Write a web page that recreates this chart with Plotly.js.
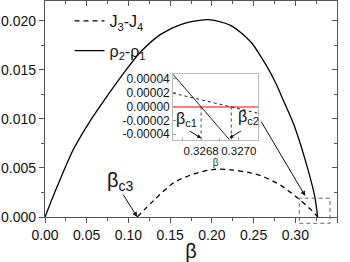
<!DOCTYPE html>
<html><head><meta charset="utf-8">
<script src="https://cdn.plot.ly/plotly-3.0.1.min.js"></script>
<style>html,body{margin:0;padding:0;background:#fff}#c{width:350px;height:262px}</style>
</head><body><div id="c"></div>
<script>
// main curve: rho2 - rho1
const betaRho = [0, 0.0141, 0.0341, 0.0542, 0.0702, 0.0904, 0.1145, 0.1386, 0.1627, 0.1950, 0.2229, 0.2470, 0.2590, 0.2751, 0.2871, 0.2992, 0.3153, 0.3233, 0.3268];
const rhoDiff = [0, 0.0030, 0.0069, 0.0098, 0.0118, 0.0142, 0.0168, 0.0186, 0.0196, 0.0201, 0.0195, 0.0178, 0.0163, 0.0139, 0.0116, 0.0092, 0.0048, 0.0021, 0];
// main curve: J3 - J4
const betaJ = [0.1105, 0.1305, 0.1546, 0.1787, 0.2028, 0.2229, 0.2460, 0.2590, 0.2831, 0.3032, 0.3193, 0.3270];
const jDiff = [0, 0.0017, 0.0035, 0.0044, 0.00485, 0.0048, 0.0045, 0.0042, 0.0032, 0.0019, 0.0007, 0];
// inset (zoom near the critical points)
const insetBetaRho = [0.32665, 0.32695];
const insetRho = [0.000047, -0.000048];
const insetBetaJ = [0.32665, 0.32696, 0.32710];
const insetJ = [0.0000194, 0.0, -0.0000096];
const betaCrit = [0.3268, 0.32696];
const betaC3 = 0.1105;
// tick labels
const insetYTickVals = [0.00004, 0.00002, 0, -0.00002, -0.00004];
const insetYTickText = ["0.00004", "0.00002", "0.00000", "-0.00002", "-0.00004"];
const insetXTickVals = [0.3268, 0.3270];
const insetXTickText = ["0.3268", "0.3270"];

const FONT = 'Arial, "Liberation Sans", sans-serif';
const AX = '#555';
const insetYBottom = -0.0000487;

const traces = [
  {x: betaJ, y: jDiff, mode: 'lines', name: 'J<sub>3</sub>-J<sub>4</sub>', legendgroup: 'a',
   line: {color: '#000', width: 1.3, dash: '5px,4px', shape: 'spline', smoothing: 0.8}},
  {x: betaRho, y: rhoDiff, mode: 'lines', name: 'ρ<sub>2</sub>-ρ<sub>1</sub>', legendgroup: 'b',
   line: {color: '#000', width: 1.3, shape: 'spline', smoothing: 0.8}},
  {x: [], y: [], xaxis: 'x2', yaxis: 'y2', showlegend: false, hoverinfo: 'skip'},
  {x: insetBetaRho, y: insetRho, xaxis: 'x3', yaxis: 'y3', mode: 'lines', showlegend: false,
   line: {color: '#222', width: 1}},
  {x: insetBetaJ, y: insetJ, xaxis: 'x3', yaxis: 'y3', mode: 'lines', showlegend: false,
   line: {color: '#222', width: 1, dash: '3px,3px'}},
  {x: [betaCrit[0], betaCrit[0]], y: [0, insetYBottom], xaxis: 'x3', yaxis: 'y3', mode: 'lines', showlegend: false,
   line: {color: '#444', width: 1, dash: 'dot'}},
  {x: [betaCrit[1], betaCrit[1]], y: [0, insetYBottom], xaxis: 'x3', yaxis: 'y3', mode: 'lines', showlegend: false,
   line: {color: '#444', width: 1, dash: 'dot'}}
];

const layout = {
  width: 350, height: 262,
  margin: {l: 45, r: 13, t: 1, b: 45},
  paper_bgcolor: '#fff', plot_bgcolor: '#fff',
  font: {family: FONT, color: '#111', size: 14},
  showlegend: true,
  legend: {x: 0.084, y: 0.986, xanchor: 'left', yanchor: 'top', bgcolor: 'rgba(0,0,0,0)',
           font: {size: 16, family: FONT}, tracegroupgap: 6},
  xaxis: {range: [0, 0.35], tickvals: [0,0.05,0.1,0.15,0.2,0.25,0.3,0.35], tickformat: '.2f',
          ticks: 'outside', ticklen: 5, tickcolor: AX, showline: true, linecolor: AX, linewidth: 1.2,
          showgrid: false, zeroline: false,
          minor: {dtick: 0.025, ticks: 'outside', ticklen: 3, tickcolor: AX},
          title: {text: 'β', font: {size: 20, family: FONT}, standoff: 4},
          tickfont: {size: 14}},
  yaxis: {range: [0, 0.022], tickvals: [0, 0.005, 0.01, 0.015, 0.02], tickformat: '.3f',
          ticks: 'outside', ticklen: 5, tickcolor: AX, showline: true, linecolor: AX, linewidth: 1.2,
          showgrid: false, zeroline: false,
          minor: {dtick: 0.0025, ticks: 'outside', ticklen: 3, tickcolor: AX},
          tickfont: {size: 14}},
  xaxis2: {overlaying: 'x', side: 'top', anchor: 'y2', range: [0, 0.35], dtick: 0.05,
           ticks: 'inside', ticklen: 5, tickcolor: AX, showticklabels: false, showline: true,
           linecolor: AX, linewidth: 1.2, showgrid: false, zeroline: false,
           minor: {dtick: 0.025, ticks: 'inside', ticklen: 3, tickcolor: AX}},
  yaxis2: {overlaying: 'y', side: 'right', anchor: 'x2', range: [0, 0.022], dtick: 0.005,
           ticks: 'inside', ticklen: 5, tickcolor: AX, showticklabels: false, showline: true,
           linecolor: AX, linewidth: 1.2, showgrid: false, zeroline: false,
           minor: {dtick: 0.0025, ticks: 'inside', ticklen: 3, tickcolor: AX}},
  xaxis3: {domain: [0.439, 0.729], anchor: 'y3', range: [0.326652, 0.327101],
           tickvals: insetXTickVals, ticktext: insetXTickText, tickangle: 0, ticks: 'inside', ticklen: 3,
           tickcolor: '#999', showline: true, linecolor: '#bbb', linewidth: 1, mirror: true,
           showgrid: false, zeroline: false, tickfont: {size: 11.5, color: '#111'},
           minor: {dtick: 0.0001, ticks: 'inside', ticklen: 2, tickcolor: '#aaa'},
           title: {text: 'β', font: {size: 10, color: '#333'}, standoff: 1}},
  yaxis3: {domain: [0.356, 0.662], anchor: 'x3', range: [insetYBottom, 0.0000472],
           tickvals: insetYTickVals, ticktext: insetYTickText, ticks: 'inside', ticklen: 3,
           tickcolor: '#999', showline: true, linecolor: '#bbb', linewidth: 1, mirror: true,
           showgrid: false, zeroline: true, zerolinecolor: '#ff8080', zerolinewidth: 2,
           tickfont: {size: 12, color: '#111'}},
  shapes: [
    {type: 'rect', xref: 'paper', yref: 'paper', x0: 0.871, x1: 0.976, y0: -0.029, y1: 0.087,
     line: {color: '#666', width: 1, dash: '4px,3px'}}
  ],
  annotations: [
    {x: betaC3, y: 0, xref: 'x', yref: 'y', text: '', showarrow: true, ax: -15, ay: -24,
     arrowhead: 2, arrowsize: 1, arrowwidth: 1, arrowcolor: '#111'},
    {x: 0.090, y: 0.0036, xref: 'x', yref: 'y', text: 'β<sub>c3</sub>', showarrow: false,
     font: {size: 20, family: FONT}},
    {x: 0.312, y: 0.00213, xref: 'x', yref: 'y', text: '', showarrow: true, ax: -45, ay: -76,
     arrowhead: 2, arrowsize: 1, arrowwidth: 1, arrowcolor: '#111'},
    {x: 0.32672, y: -0.0000193, xref: 'x3', yref: 'y3', text: 'β<sub>c1</sub>', showarrow: false,
     font: {size: 16, family: FONT}},
    {x: 0.32705, y: -0.0000164, xref: 'x3', yref: 'y3', text: 'β<sub>c2</sub>', showarrow: false,
     font: {size: 16, family: FONT}},
    {x: betaCrit[0], y: -0.0000458, xref: 'x3', yref: 'y3', text: '', showarrow: true, ax: -13, ay: -8,
     arrowhead: 2, arrowsize: 0.8, arrowwidth: 1, arrowcolor: '#111'},
    {x: 0.32695, y: -0.0000458, xref: 'x3', yref: 'y3', text: '', showarrow: true, ax: 13, ay: -8,
     arrowhead: 2, arrowsize: 0.8, arrowwidth: 1, arrowcolor: '#111'}
  ]
};

Plotly.newPlot('c', traces, layout, {displayModeBar: false, staticPlot: true});
</script>
</body></html>
